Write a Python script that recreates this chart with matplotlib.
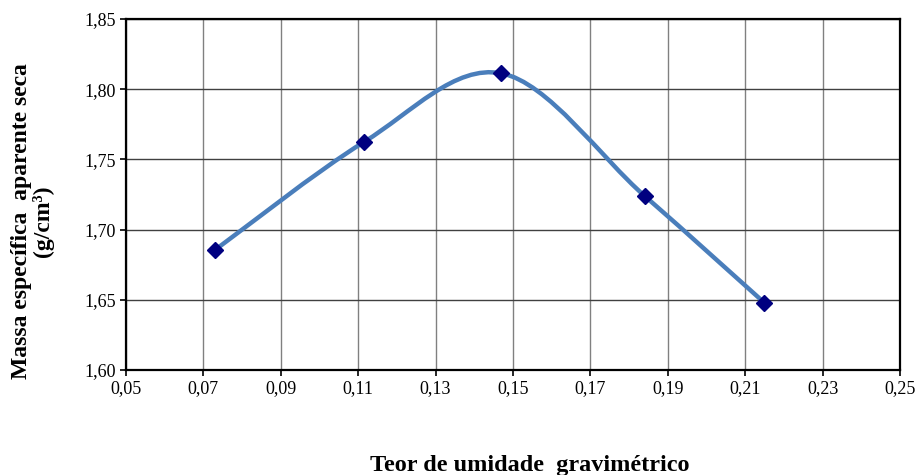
import numpy as np
import matplotlib.pyplot as plt
from matplotlib.path import Path
from matplotlib.patches import PathPatch

# data
umidade = [0.073, 0.1115, 0.147, 0.184, 0.2149]
massa = [1.6855, 1.7624, 1.8113, 1.724, 1.648]

x_ticks = [0.05, 0.07, 0.09, 0.11, 0.13, 0.15, 0.17, 0.19, 0.21, 0.23, 0.25]
y_ticks = [1.60, 1.65, 1.70, 1.75, 1.80, 1.85]

plt.rcParams["font.family"] = ["Liberation Serif", "DejaVu Serif"]

fig = plt.figure(figsize=(9.17, 4.75), dpi=100)
ax = fig.add_axes([0.1374, 0.2211, 0.8441, 0.7389])

# smoothed line like Excel (Catmull-Rom -> cubic Bezier)
pts = np.column_stack([umidade, massa])
ext = np.vstack([pts[0], pts, pts[-1]])
verts = [tuple(pts[0])]
codes = [Path.MOVETO]
for i in range(len(pts) - 1):
    p0, p1, p2, p3 = ext[i], ext[i + 1], ext[i + 2], ext[i + 3]
    c1 = p1 + (p2 - p0) / 6
    c2 = p2 - (p3 - p1) / 6
    verts += [tuple(c1), tuple(c2), tuple(p2)]
    codes += [Path.CURVE4] * 3
curve = PathPatch(Path(verts, codes), facecolor="none", edgecolor="#4a7ebb",
                  lw=3.2, capstyle="round", zorder=3)
ax.add_patch(curve)

ax.plot(umidade, massa, ls="none", marker="D", ms=8.5, color="#000080", zorder=4)

ax.set_xlim(0.05, 0.25)
ax.set_ylim(1.60, 1.85)
ax.set_xticks(x_ticks)
ax.set_yticks(y_ticks)
ax.set_xticklabels([f"{v:.2f}".replace(".", ",") for v in x_ticks], fontsize=13)
ax.set_yticklabels([f"{v:.2f}".replace(".", ",") for v in y_ticks], fontsize=13)
ax.tick_params(direction="out", length=4, width=1.2, color="black", pad=3)

ax.xaxis.grid(True, color="#808080", lw=1.0)
ax.yaxis.grid(True, color="#404040", lw=1.0)
ax.set_axisbelow(True)
for s in ax.spines.values():
    s.set_linewidth(1.6)
    s.set_color("black")

fig.text(0.0355, 0.5347, "Massa específica  aparente seca\n(g/cm³)", fontsize=17,
         fontweight="bold", rotation=90, ha="center", va="center",
         multialignment="center", linespacing=1.0)
fig.text(0.578, 0.009, "Teor de umidade  gravimétrico", fontsize=17.5,
         fontweight="bold", ha="center", va="baseline")

plt.savefig("out.png", dpi=100)
